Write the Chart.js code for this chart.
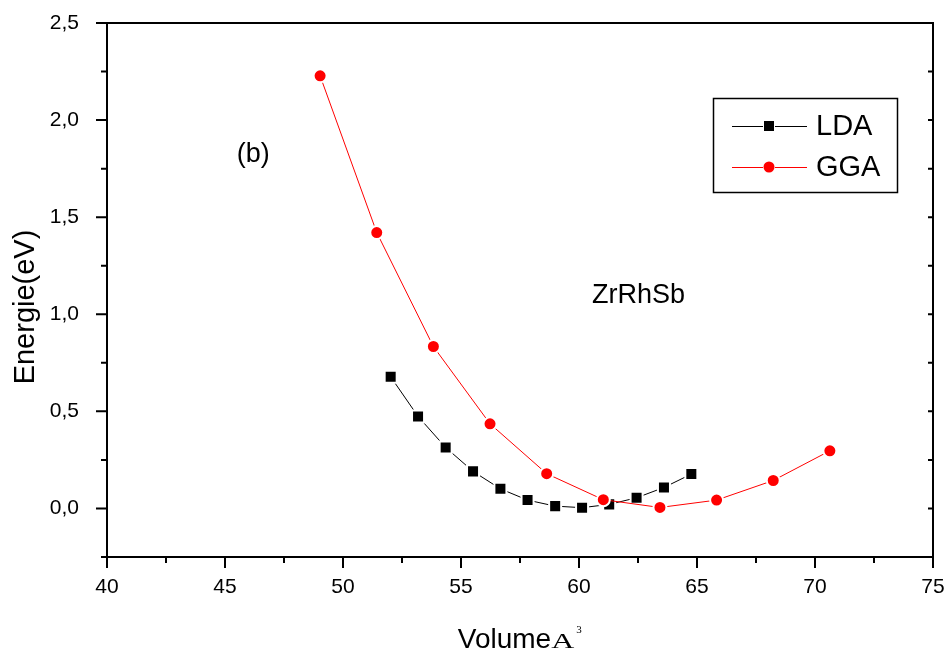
<!DOCTYPE html>
<html>
<head>
<meta charset="utf-8">
<script src="https://cdn.jsdelivr.net/npm/chart.js@4.4.0/dist/chart.umd.min.js"></script>
<style>
  body { margin: 0; background: #ffffff; }
  #wrap { width: 947px; height: 655px; }
</style>
</head>
<body>
<div id="wrap"><canvas id="chart" width="947" height="655"></canvas></div>
<script>
const ldaVolume = [52.02, 53.18, 54.35, 55.51, 56.67, 57.82, 58.99, 60.13, 61.28, 62.44, 63.60, 64.76];
const ldaEnergy = [0.678, 0.474, 0.314, 0.191, 0.101, 0.043, 0.012, 0.004, 0.021, 0.055, 0.108, 0.177];

const ggaVolume = [49.03, 51.43, 53.83, 56.23, 58.63, 61.03, 63.43, 65.83, 68.23, 70.63];
const ggaEnergy = [2.228, 1.421, 0.834, 0.436, 0.179, 0.045, 0.005, 0.043, 0.144, 0.297];

const xTicks = [40, 45, 50, 55, 60, 65, 70, 75];
const xMinorTicks = [42.5, 47.5, 52.5, 57.5, 62.5, 67.5, 72.5];
const yTicks = [0.0, 0.5, 1.0, 1.5, 2.0, 2.5];
const yMinorTicks = [-0.25, 0.25, 0.75, 1.25, 1.75, 2.25];

const sans = '"Liberation Sans", Arial, sans-serif';
const serif = '"Liberation Serif", "Times New Roman", serif';

function toPoints(xs, ys) {
    return xs.map((x, i) => ({ x: x, y: ys[i] }));
}

// frame, ticks, titles, notes and legend in the Origin style
const decorations = {
    id: 'decorations',
    afterDraw(chart) {
        const ctx = chart.ctx;
        const a = chart.chartArea;
        const sx = chart.scales.x;
        const sy = chart.scales.y;
        ctx.save();
        ctx.strokeStyle = '#000';
        ctx.lineWidth = 2;
        ctx.strokeRect(a.left, a.top, a.right - a.left, a.bottom - a.top);

        ctx.beginPath();
        xTicks.forEach(v => {
            const px = sx.getPixelForValue(v);
            ctx.moveTo(px, a.bottom);
            ctx.lineTo(px, a.bottom + 11);
        });
        xMinorTicks.forEach(v => {
            const px = sx.getPixelForValue(v);
            ctx.moveTo(px, a.bottom);
            ctx.lineTo(px, a.bottom + 6);
        });
        yTicks.forEach(v => {
            const py = sy.getPixelForValue(v);
            ctx.moveTo(a.left, py);
            ctx.lineTo(a.left - 11, py);
        });
        yMinorTicks.forEach(v => {
            const py = sy.getPixelForValue(v);
            ctx.moveTo(a.left, py);
            ctx.lineTo(a.left - 6, py);
        });
        yTicks.concat(yMinorTicks).forEach(v => {
            const py = sy.getPixelForValue(v);
            ctx.moveTo(a.right, py);
            ctx.lineTo(a.right - 5, py);
        });
        ctx.stroke();

        // axis titles
        ctx.fillStyle = '#000';
        ctx.textBaseline = 'alphabetic';
        ctx.textAlign = 'left';
        const cx = (a.left + a.right) / 2;
        ctx.font = '28px ' + sans;
        const wVol = ctx.measureText('Volume').width;
        const wA = 24;
        const total = wVol + wA + 7;
        const x0 = cx - total / 2;
        ctx.fillText('Volume', x0, 648);
        ctx.save();
        ctx.translate(x0 + wVol, 648);
        ctx.scale(1.45, 1);
        ctx.font = '22px ' + serif;
        ctx.fillText('A', 0, 0);
        ctx.restore();
        ctx.font = '11px ' + serif;
        ctx.fillText('3', x0 + wVol + wA + 1, 633);

        ctx.save();
        ctx.translate(26, 307);
        ctx.rotate(-Math.PI / 2);
        ctx.textAlign = 'center';
        ctx.textBaseline = 'middle';
        ctx.font = '29px ' + sans;
        ctx.fillText('Energie(eV)', 0, 0);
        ctx.restore();

        // notes inside the plot
        ctx.font = '27px ' + sans;
        ctx.textAlign = 'center';
        ctx.fillText('(b)', sx.getPixelForValue(46.2), sy.getPixelForValue(1.785));
        ctx.textAlign = 'left';
        ctx.fillText('ZrRhSb', sx.getPixelForValue(60.55), sy.getPixelForValue(1.06));

        // legend
        ctx.lineWidth = 1.5;
        ctx.strokeRect(713.5, 98.5, 184, 94);
        const rows = [
            { label: 'LDA', color: '#000000', y: 126, shape: 'rect' },
            { label: 'GGA', color: '#ff0000', y: 167, shape: 'circle' }
        ];
        rows.forEach(r => {
            ctx.strokeStyle = r.color;
            ctx.lineWidth = 1;
            ctx.beginPath();
            ctx.moveTo(732, r.y + 0.5);
            ctx.lineTo(763, r.y + 0.5);
            ctx.moveTo(775, r.y + 0.5);
            ctx.lineTo(807, r.y + 0.5);
            ctx.stroke();
            ctx.fillStyle = r.color;
            if (r.shape === 'rect') {
                ctx.fillRect(764, r.y - 5, 10, 10);
            } else {
                ctx.beginPath();
                ctx.arc(769, r.y, 5.5, 0, Math.PI * 2);
                ctx.fill();
            }
            ctx.fillStyle = '#000';
            ctx.font = '29px ' + sans;
            ctx.textBaseline = 'middle';
            ctx.fillText(r.label, 816, r.y + 1);
        });
        ctx.restore();
    }
};

new Chart(document.getElementById('chart'), {
    type: 'line',
    data: {
        datasets: [
            {
                label: 'LDA',
                data: toPoints(ldaVolume, ldaEnergy),
                borderColor: '#000000',
                backgroundColor: '#000000',
                borderWidth: 1,
                pointStyle: 'rect',
                pointRadius: 8.5,
                pointBorderWidth: 2,
                pointBorderColor: '#ffffff',
                pointBackgroundColor: '#000000',
                tension: 0,
                order: 1
            },
            {
                label: 'GGA',
                data: toPoints(ggaVolume, ggaEnergy),
                borderColor: '#ff0000',
                backgroundColor: '#ff0000',
                borderWidth: 1,
                pointStyle: 'circle',
                pointRadius: 6.5,
                pointBorderWidth: 2,
                pointBorderColor: '#ffffff',
                pointBackgroundColor: '#ff0000',
                tension: 0,
                order: 0
            }
        ]
    },
    options: {
        responsive: false,
        animation: false,
        events: [],
        layout: { padding: { top: 23, right: 14, left: 0, bottom: 0 } },
        plugins: {
            legend: { display: false },
            tooltip: { enabled: false }
        },
        scales: {
            x: {
                type: 'linear',
                min: 40,
                max: 75,
                grid: { display: false },
                border: { display: false },
                afterBuildTicks: s => { s.ticks = xTicks.map(v => ({ value: v })); },
                afterFit: s => {
                    s.height = 98;
                    s.paddingLeft = 0;
                    s.paddingRight = 0;
                },
                ticks: {
                    color: '#000',
                    padding: 10,
                    maxRotation: 0,
                    font: { family: sans, size: 21 },
                    callback: v => String(v)
                }
            },
            y: {
                type: 'linear',
                min: -0.25,
                max: 2.5,
                grid: { display: false },
                border: { display: false },
                afterBuildTicks: s => { s.ticks = yTicks.map(v => ({ value: v })); },
                afterFit: s => {
                    s.width = 107;
                    s.paddingTop = 0;
                    s.paddingBottom = 0;
                },
                ticks: {
                    color: '#000',
                    padding: 20,
                    font: { family: sans, size: 21 },
                    callback: v => v.toFixed(1).replace('.', ',')
                }
            }
        }
    },
    plugins: [decorations]
});
</script>
</body>
</html>
